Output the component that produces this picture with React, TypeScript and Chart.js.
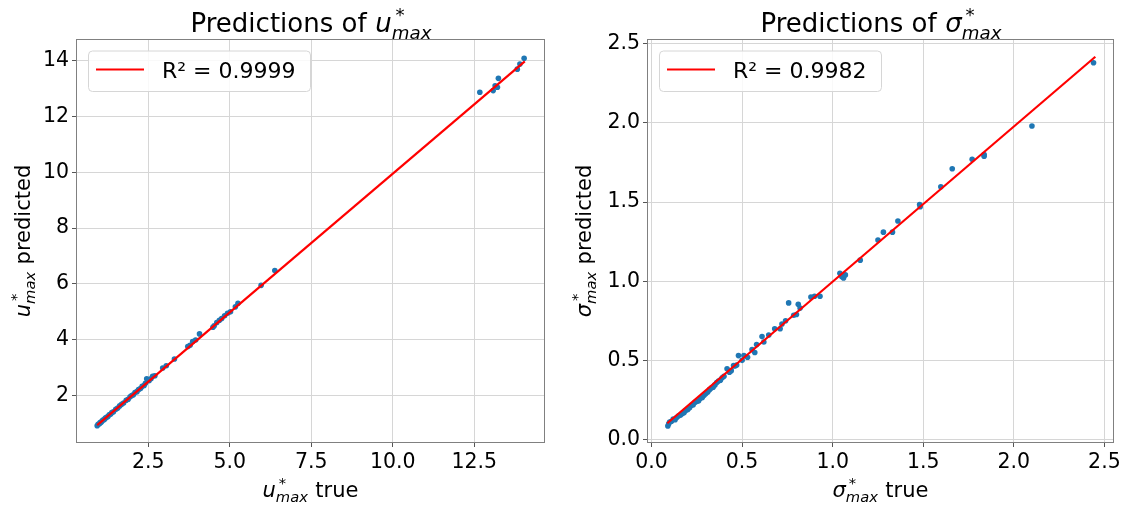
import React, { useEffect, useRef } from "react";
import { Chart, registerables } from "chart.js";

Chart.register(...registerables);

// ---------- data: left panel (u*max) ----------
const uTrue = [
  0.93, 0.96, 0.99, 1.02, 1.05, 1.08, 1.11, 1.15, 1.18, 1.22, 1.26, 1.3, 1.34, 1.38, 1.43, 1.5, 1.56, 1.62,
  1.68, 1.74, 1.82, 1.88, 1.94, 1.99, 2.04, 2.09, 2.15, 2.2, 2.26, 2.31, 2.37, 2.41, 2.45, 2.52, 2.58, 2.63,
  2.7, 2.94, 3.05, 3.3, 3.71, 3.78, 3.86, 3.95, 4.07, 4.48, 4.52, 4.6, 4.68, 4.75, 4.84, 4.93, 5.02, 5.17,
  5.25, 5.96, 6.38, 12.67, 13.08, 13.14, 13.21, 13.24, 13.82, 13.9, 14.03,
];
const uPred = [
  0.92, 0.97, 0.98, 1.03, 1.04, 1.09, 1.12, 1.14, 1.19, 1.22, 1.25, 1.31, 1.33, 1.39, 1.42, 1.51, 1.55, 1.63,
  1.69, 1.73, 1.83, 1.87, 1.96, 2.0, 2.03, 2.11, 2.14, 2.22, 2.25, 2.33, 2.36, 2.44, 2.6, 2.53, 2.6, 2.69,
  2.71, 2.99, 3.07, 3.31, 3.76, 3.8, 3.94, 3.99, 4.21, 4.45, 4.5, 4.62, 4.7, 4.76, 4.86, 4.95, 5.0, 5.18,
  5.31, 5.95, 6.48, 12.87, 12.93, 13.1, 13.05, 13.37, 13.7, 13.88, 14.09,
];
const uFitX = [0.93, 14.05];
const uFitY = [0.94, 13.98];
const uTicksX = [2.5, 5, 7.5, 10, 12.5];
const uTicksY = [2, 4, 6, 8, 10, 12, 14];
const uR2 = "R\u00b2 = 0.9999";

// ---------- data: right panel (sigma*max) ----------
const sTrue = [
  0.09, 0.095, 0.1, 0.11, 0.12, 0.13, 0.14, 0.15, 0.16, 0.17, 0.18, 0.19, 0.2, 0.21, 0.22, 0.23, 0.24, 0.25,
  0.26, 0.27, 0.28, 0.29, 0.3, 0.31, 0.32, 0.33, 0.34, 0.35, 0.36, 0.37, 0.38, 0.39, 0.4, 0.417, 0.43, 0.44,
  0.453, 0.46, 0.47, 0.48, 0.5, 0.51, 0.53, 0.555, 0.57, 0.58, 0.61, 0.62, 0.647, 0.68, 0.71, 0.72, 0.74,
  0.757, 0.785, 0.8, 0.81, 0.82, 0.88, 0.9, 0.93, 1.04, 1.05, 1.06, 1.07, 1.152, 1.25, 1.28, 1.33, 1.36,
  1.48, 1.483, 1.597, 1.66, 1.77, 1.836, 1.836, 2.1, 2.44,
];
const sPred = [
  0.085, 0.1, 0.11, 0.115, 0.13, 0.125, 0.14, 0.15, 0.155, 0.165, 0.17, 0.185, 0.19, 0.2, 0.215, 0.22, 0.235,
  0.24, 0.245, 0.26, 0.265, 0.28, 0.29, 0.3, 0.315, 0.325, 0.33, 0.345, 0.36, 0.37, 0.375, 0.39, 0.4, 0.447,
  0.425, 0.435, 0.468, 0.465, 0.47, 0.53, 0.5, 0.53, 0.52, 0.568, 0.55, 0.6, 0.65, 0.616, 0.66, 0.7, 0.7,
  0.73, 0.75, 0.863, 0.785, 0.79, 0.854, 0.83, 0.9, 0.905, 0.905, 1.05, 1.03, 1.02, 1.04, 1.133, 1.26, 1.31,
  1.31, 1.38, 1.485, 1.47, 1.597, 1.71, 1.77, 1.8, 1.79, 1.98, 2.38,
];
const sFitX = [0.087, 2.45];
const sFitY = [0.103, 2.418];
const sTicksX = [0, 0.5, 1, 1.5, 2, 2.5];
const sTicksY = [0, 0.5, 1, 1.5, 2, 2.5];
const sR2 = "R\u00b2 = 0.9982";

const FONT = '"DejaVu Sans", sans-serif';

type Spec = {
  xs: number[];
  ys: number[];
  fitX: number[];
  fitY: number[];
  xMin: number;
  xMax: number;
  yMin: number;
  yMax: number;
  xTicks: number[];
  yTicks: number[];
  xFmt: (v: number) => string;
  yFmt: (v: number) => string;
  yAxisWidth: number;
  padRight: number;
  sym: string;
  r2: string;
  yLabelX: number;
};

function drawMath(
  ctx: CanvasRenderingContext2D,
  pre: string,
  sym: string,
  post: string,
  size: number,
  cx: number,
  baseY: number,
  rotate: boolean
) {
  const small = size * 0.7;
  ctx.save();
  ctx.fillStyle = "#000";
  ctx.textBaseline = "alphabetic";
  ctx.textAlign = "left";
  const normal = `${size}px ${FONT}`;
  const ital = `italic ${size}px ${FONT}`;
  const smallN = `${small}px ${FONT}`;
  const smallI = `italic ${small}px ${FONT}`;
  ctx.font = normal;
  const wPre = pre ? ctx.measureText(pre).width : 0;
  const wPost = post ? ctx.measureText(post).width : 0;
  ctx.font = ital;
  const wSym = ctx.measureText(sym).width;
  ctx.font = smallN;
  const wSup = ctx.measureText("*").width;
  ctx.font = smallI;
  const wSub = ctx.measureText("max").width;
  const gap1 = pre ? size * 0.02 : 0;
  const supOff = size * 0.14;
  const scriptW = Math.max(wSup + supOff, wSub) + size * 0.04;
  const total = wPre + gap1 + wSym + scriptW + wPost;
  ctx.translate(cx, baseY);
  if (rotate) ctx.rotate(-Math.PI / 2);
  let x = -total / 2;
  if (pre) {
    ctx.font = normal;
    ctx.fillText(pre, x, 0);
  }
  x += wPre + gap1;
  ctx.font = ital;
  ctx.fillText(sym, x, 0);
  x += wSym;
  ctx.font = smallN;
  ctx.fillText("*", x + supOff, -size * 0.41);
  ctx.font = smallI;
  ctx.fillText("max", x, size * 0.26);
  x += scriptW;
  if (post) {
    ctx.font = normal;
    ctx.fillText(post, x, 0);
  }
  ctx.restore();
}

function roundRect(ctx: CanvasRenderingContext2D, x: number, y: number, w: number, h: number, r: number) {
  ctx.beginPath();
  ctx.moveTo(x + r, y);
  ctx.lineTo(x + w - r, y);
  ctx.arcTo(x + w, y, x + w, y + r, r);
  ctx.lineTo(x + w, y + h - r);
  ctx.arcTo(x + w, y + h, x + w - r, y + h, r);
  ctx.lineTo(x + r, y + h);
  ctx.arcTo(x, y + h, x, y + h - r, r);
  ctx.lineTo(x, y + r);
  ctx.arcTo(x, y, x + r, y, r);
  ctx.closePath();
}

function makeConfig(spec: Spec): any {
  const overlay = {
    id: "overlay",
    afterDraw(chart: any) {
      const ctx: CanvasRenderingContext2D = chart.ctx;
      const a = chart.chartArea;
      // frame
      ctx.save();
      ctx.strokeStyle = "#808080";
      ctx.lineWidth = 1;
      ctx.strokeRect(a.left + 0.5, a.top + 0.5, a.right - a.left - 1, a.bottom - a.top - 1);
      ctx.restore();
      // legend
      const bx = a.left + 12;
      const by = a.top + 11.5;
      const bw = 222;
      const bh = 40.5;
      ctx.save();
      roundRect(ctx, bx + 0.5, by + 0.5, bw, bh, 4);
      ctx.fillStyle = "rgba(255,255,255,0.85)";
      ctx.fill();
      ctx.strokeStyle = "#d6d6d6";
      ctx.lineWidth = 1;
      ctx.stroke();
      ctx.strokeStyle = "#ff0000";
      ctx.lineWidth = 2.2;
      ctx.beginPath();
      ctx.moveTo(bx + 8, by + 19);
      ctx.lineTo(bx + 56, by + 19);
      ctx.stroke();
      ctx.fillStyle = "#000";
      ctx.font = `22px ${FONT}`;
      ctx.textBaseline = "alphabetic";
      ctx.textAlign = "left";
      ctx.fillText(spec.r2, bx + 74, by + 27.7);
      ctx.restore();
      // title and axis labels
      const cx = (a.left + a.right) / 2;
      const cy = (a.top + a.bottom) / 2;
      drawMath(ctx, "Predictions of ", spec.sym, "", 26, cx + 1, 32, false);
      drawMath(ctx, "", spec.sym, " true", 21, cx, 497, false);
      drawMath(ctx, "", spec.sym, " predicted", 21, spec.yLabelX, cy, true);
    },
  };

  return {
    type: "scatter",
    data: {
      datasets: [
        {
          type: "scatter",
          data: spec.fitX.map((x, i) => ({ x, y: spec.fitY[i] })),
          showLine: true,
          borderColor: "#ff0000",
          borderWidth: 2.2,
          pointRadius: 0,
          fill: false,
          order: 0,
        },
        {
          type: "scatter",
          data: spec.xs.map((x, i) => ({ x, y: spec.ys[i] })),
          backgroundColor: "#1f77b4",
          borderWidth: 0,
          pointRadius: 2.8,
          order: 1,
        },
      ],
    },
    options: {
      animation: false,
      responsive: false,
      devicePixelRatio: 1,
      events: [],
      layout: { padding: { left: 0, top: 39, right: spec.padRight, bottom: 0 } },
      plugins: { legend: { display: false }, tooltip: { enabled: false }, title: { display: false } },
      scales: {
        x: {
          type: "linear",
          min: spec.xMin,
          max: spec.xMax,
          afterBuildTicks: (scale: any) => {
            scale.ticks = spec.xTicks.map((v) => ({ value: v }));
          },
          afterFit: (scale: any) => {
            scale.height = 64;
          },
          ticks: {
            autoSkip: false,
            maxRotation: 0,
            padding: 3,
            color: "#000",
            font: { family: FONT, size: 20.5 },
            callback: (v: any) => spec.xFmt(Number(v)),
          },
          grid: { color: "#d6d6d6", lineWidth: 1, drawTicks: true, tickLength: 4, tickColor: "#555" },
          border: { display: false },
        },
        y: {
          type: "linear",
          min: spec.yMin,
          max: spec.yMax,
          afterBuildTicks: (scale: any) => {
            scale.ticks = spec.yTicks.map((v) => ({ value: v }));
          },
          afterFit: (scale: any) => {
            scale.width = spec.yAxisWidth;
          },
          ticks: {
            autoSkip: false,
            padding: 3,
            color: "#000",
            font: { family: FONT, size: 20.5 },
            callback: (v: any) => spec.yFmt(Number(v)),
          },
          grid: { color: "#d6d6d6", lineWidth: 1, drawTicks: true, tickLength: 4, tickColor: "#555" },
          border: { display: false },
        },
      },
    },
    plugins: [overlay],
  };
}

function Panel({ spec, left }: { spec: Spec; left: number }) {
  const ref = useRef<HTMLCanvasElement | null>(null);
  useEffect(() => {
    if (!ref.current) return;
    const chart = new Chart(ref.current, makeConfig(spec));
    return () => chart.destroy();
  }, []);
  return (
    <canvas
      ref={ref}
      width={563}
      height={507}
      style={{ position: "absolute", left, top: 0, width: 563, height: 507 }}
    />
  );
}

const uSpec: Spec = {
  xs: uTrue,
  ys: uPred,
  fitX: uFitX,
  fitY: uFitY,
  xMin: 0.28,
  xMax: 14.67,
  yMin: 0.3,
  yMax: 14.78,
  xTicks: uTicksX,
  yTicks: uTicksY,
  xFmt: (v) => v.toFixed(1),
  yFmt: (v) => String(Math.round(v)),
  yAxisWidth: 76,
  padRight: 18,
  sym: "u",
  r2: uR2,
  yLabelX: 30,
};

const sSpec: Spec = {
  xs: sTrue,
  ys: sPred,
  fitX: sFitX,
  fitY: sFitY,
  xMin: -0.025,
  xMax: 2.553,
  yMin: -0.022,
  yMax: 2.53,
  xTicks: sTicksX,
  yTicks: sTicksY,
  xFmt: (v) => v.toFixed(1),
  yFmt: (v) => v.toFixed(1),
  yAxisWidth: 84,
  padRight: 12,
  sym: "\u03c3",
  r2: sR2,
  yLabelX: 28,
};

export default function App() {
  return (
    <div style={{ position: "absolute", left: 0, top: 0, width: 1126, height: 507, background: "#fff" }}>
      <Panel spec={uSpec} left={0} />
      <Panel spec={sSpec} left={563} />
    </div>
  );
}
